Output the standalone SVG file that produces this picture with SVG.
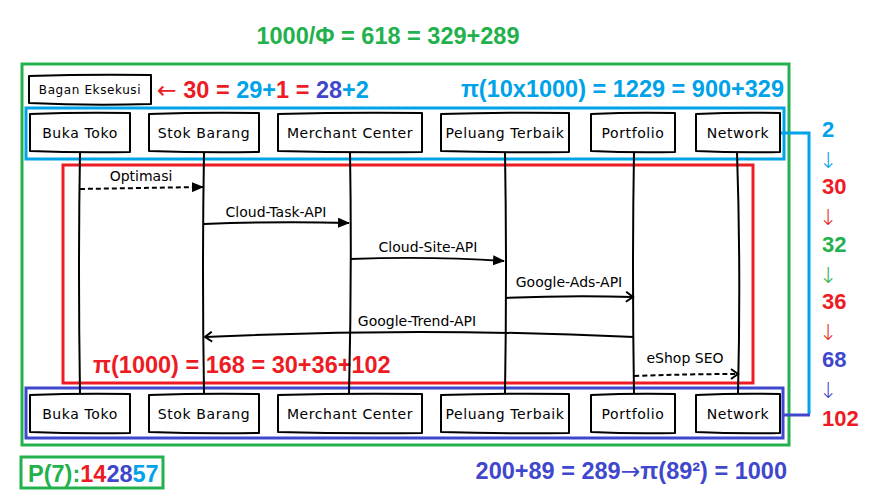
<svg xmlns="http://www.w3.org/2000/svg" width="876" height="502" viewBox="0 0 876 502">
<style>
.f{font-family:"Liberation Sans",Arial,sans-serif;font-weight:bold;}
.g{fill:#22b14c}.b{fill:#00a2e8}.r{fill:#ed1c24}.p{fill:#3f48cc}
.ar{font-family:"DejaVu Sans",sans-serif;font-weight:normal}
.box{fill:#fff;stroke:#000;stroke-width:2;stroke-linejoin:round}
.lbl{font-family:"DejaVu Sans",sans-serif;font-size:14px;letter-spacing:0.6px;fill:#000;text-anchor:middle}
.msg{font-family:"DejaVu Sans",sans-serif;font-size:14px;fill:#000;text-anchor:middle}
.life{fill:none;stroke:#000;stroke-width:2}
.arr{fill:none;stroke:#000;stroke-width:2}
.dash{stroke-dasharray:5,3}
.frame{fill:none;stroke-width:3}
.num{font-family:"Liberation Sans",Arial,sans-serif;font-weight:bold;font-size:22px}
.dn{font-family:"DejaVu Sans",sans-serif;font-size:22px;text-anchor:middle;font-weight:200}
</style>
<defs>
<marker id="tri" markerWidth="12" markerHeight="10" refX="11" refY="5" orient="auto" markerUnits="userSpaceOnUse">
<path d="M0,0 L12,5 L0,10 Z" fill="#000"/>
</marker>
<marker id="open" markerWidth="12" markerHeight="12" refX="9" refY="6" orient="auto" markerUnits="userSpaceOnUse">
<path d="M2,1 L9,6 L2,11" fill="none" stroke="#000" stroke-width="2"/>
</marker>
</defs>
<rect width="876" height="502" fill="#fff"/>

<!-- frames -->
<rect class="frame" x="22" y="64" width="767" height="381" stroke="#22b14c"/>
<rect class="frame" x="26" y="108" width="758" height="51" stroke="#00a2e8"/>
<rect class="frame" x="63" y="165" width="690" height="218" stroke="#ed1c24"/>
<rect class="frame" x="26" y="388" width="757" height="50" stroke="#3f48cc"/>
<rect class="frame" x="21" y="457" width="142" height="31" stroke="#22b14c"/>

<!-- titles -->
<text class="f g" x="388" y="44" font-size="23.5" text-anchor="middle">1000/Φ = 618 = 329+289</text>
<text class="f" x="157" y="98" font-size="23.5"><tspan class="r ar">←</tspan><tspan class="r"> 30 = </tspan><tspan class="b">29+</tspan><tspan class="r">1 = </tspan><tspan class="p">28</tspan><tspan class="b">+2</tspan></text>
<text class="f b" x="784" y="97" font-size="23.5" text-anchor="end">π(10x1000) = 1229 = 900+329</text>
<text class="f r" x="93" y="373" font-size="23.5">π(1000) = 168 = 30+36+102</text>
<text class="f" x="28" y="482" font-size="23.5"><tspan class="g">P(7):</tspan><tspan class="r">14</tspan><tspan class="p">28</tspan><tspan class="b">57</tspan></text>
<text class="f p" x="787" y="479" font-size="23.5" text-anchor="end">200+89 = 289<tspan class="ar">→</tspan>π(89²) = 1000</text>

<!-- right sequence -->
<g id="sequence">
<text class="num b" x="822" y="137">2</text>
<text class="dn" x="828" y="168" fill="#00a2e8">↓</text>
<text class="num r" x="822" y="194">30</text>
<text class="dn" x="828" y="225" fill="#ed1c24">↓</text>
<text class="num g" x="822" y="252">32</text>
<text class="dn" x="828" y="283" fill="#22b14c">↓</text>
<text class="num r" x="822" y="309">36</text>
<text class="dn" x="828" y="340" fill="#ed1c24">↓</text>
<text class="num p" x="822" y="367">68</text>
<text class="dn" x="828" y="398" fill="#3f48cc">↓</text>
<text class="num r" x="822" y="426">102</text>
</g>

<!-- connectors -->
<g id="connectors">
<path d="M780,133 H809 V414" fill="none" stroke="#00a2e8" stroke-width="3"/>
<path d="M784,415 H810" fill="none" stroke="#3f48cc" stroke-width="3"/>
<path class="life" d="M80,152 Q78,270 80,394"/>
<path class="life" d="M204,152 Q202,270 204,394"/>
<path class="life" d="M350,152 Q352,270 349,394"/>
<path class="life" d="M505,152 Q507,270 505,394"/>
<path class="life" d="M634,152 Q632,270 634,394"/>
<path class="life" d="M737,152 Q741,270 738,394"/>
<path class="arr dash" d="M80,189 Q140,188 203,187" marker-end="url(#tri)"/>
<path class="arr" d="M204,224 Q280,221 349,223" marker-end="url(#tri)"/>
<path class="arr" d="M350,259 Q430,256 504,261" marker-end="url(#tri)"/>
<path class="arr" d="M505,298 Q570,295 633,297" marker-end="url(#open)"/>
<path class="arr" d="M634,337 Q420,327 205,337" marker-end="url(#open)"/>
<path class="arr dash" d="M634,376 Q690,374 738,374" marker-end="url(#open)"/>
<text class="msg" x="141" y="181">Optimasi</text>
<text class="msg" x="276" y="217">Cloud-Task-API</text>
<text class="msg" x="428" y="252">Cloud-Site-API</text>
<text class="msg" x="569" y="287">Google-Ads-API</text>
<text class="msg" x="417" y="326">Google-Trend-API</text>
<text class="msg" x="685" y="363">eShop SEO</text>
</g>

<!-- nodes -->
<g id="bagan"><path class="box" d="M29,76 Q90,74 151,75 L151,104 Q90,106 29,103 Z"/><text class="lbl" x="90" y="94" style="font-size:12px;letter-spacing:0.6px">Bagan Eksekusi</text></g>

<g id="top-buka"><path class="box" d="M30,114 Q80,112 130,113 L130,152 Q80,153 30,151 Z"/><text class="lbl" x="80" y="138">Buka Toko</text></g>
<g id="top-stok"><path class="box" d="M149,114 Q204,112 259,113 L259,152 Q204,153 149,151 Z"/><text class="lbl" x="204" y="138">Stok Barang</text></g>
<g id="top-merchant"><path class="box" d="M278,114 Q350,112 422,113 L422,152 Q350,153 278,151 Z"/><text class="lbl" x="350" y="138">Merchant Center</text></g>
<g id="top-peluang"><path class="box" d="M441,114 Q505,112 569,113 L569,152 Q505,153 441,151 Z"/><text class="lbl" x="505" y="138">Peluang Terbaik</text></g>
<g id="top-portfolio"><path class="box" d="M591,114 Q633,112 675,113 L675,152 Q633,153 591,151 Z"/><text class="lbl" x="633" y="138">Portfolio</text></g>
<g id="top-network"><path class="box" d="M696,114 Q738,112 780,113 L780,152 Q738,153 696,151 Z"/><text class="lbl" x="738" y="138">Network</text></g>

<g id="bot-buka"><path class="box" d="M30,395 Q80,393 130,394 L130,433 Q80,434 30,432 Z"/><text class="lbl" x="80" y="419">Buka Toko</text></g>
<g id="bot-stok"><path class="box" d="M149,395 Q204,393 259,394 L259,433 Q204,434 149,432 Z"/><text class="lbl" x="204" y="419">Stok Barang</text></g>
<g id="bot-merchant"><path class="box" d="M278,395 Q350,393 422,394 L422,433 Q350,434 278,432 Z"/><text class="lbl" x="350" y="419">Merchant Center</text></g>
<g id="bot-peluang"><path class="box" d="M441,395 Q505,393 569,394 L569,433 Q505,434 441,432 Z"/><text class="lbl" x="505" y="419">Peluang Terbaik</text></g>
<g id="bot-portfolio"><path class="box" d="M591,395 Q633,393 675,394 L675,433 Q633,434 591,432 Z"/><text class="lbl" x="633" y="419">Portfolio</text></g>
<g id="bot-network"><path class="box" d="M696,395 Q738,393 780,394 L780,433 Q738,434 696,432 Z"/><text class="lbl" x="738" y="419">Network</text></g>
</svg>
